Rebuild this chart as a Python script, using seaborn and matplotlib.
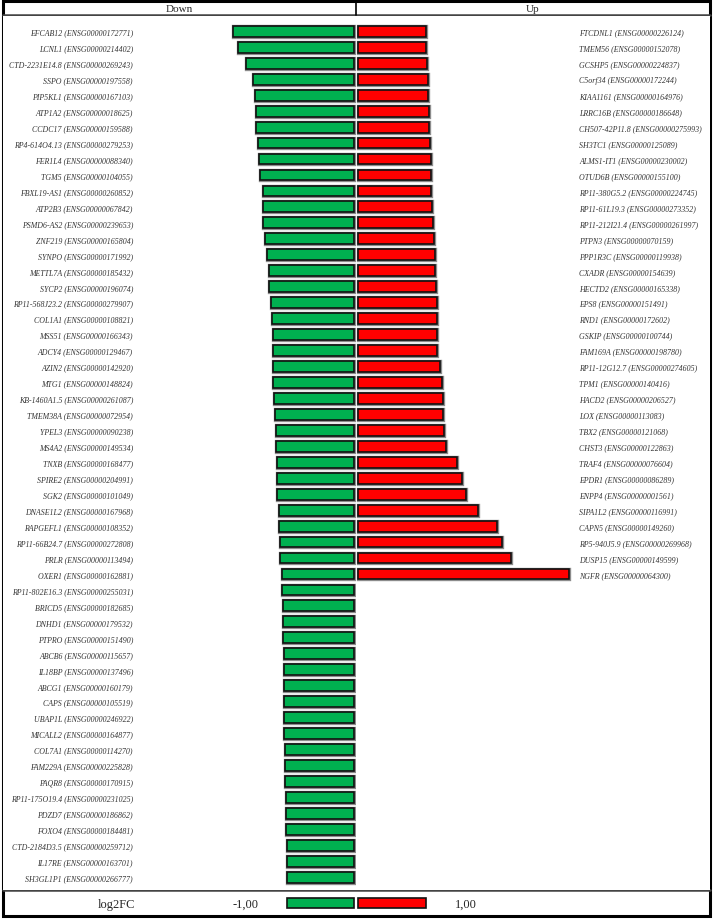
import numpy as np
import pandas as pd
import seaborn as sns
import matplotlib.pyplot as plt
import matplotlib.patheffects as pe
from matplotlib.patches import Rectangle
from matplotlib.lines import Line2D

# genes going down (log2FC < 0), top to bottom
down_genes = [
    "EFCAB12 (ENSG00000172771)", "LCNL1 (ENSG00000214402)", "CTD-2231E14.8 (ENSG00000269243)",
    "SSPO (ENSG00000197558)", "PIP5KL1 (ENSG00000167103)", "ATP1A2 (ENSG00000018625)",
    "CCDC17 (ENSG00000159588)", "RP4-614O4.13 (ENSG00000279253)", "FER1L4 (ENSG00000088340)",
    "TGM5 (ENSG00000104055)", "FBXL19-AS1 (ENSG00000260852)", "ATP2B3 (ENSG00000067842)",
    "PSMD6-AS2 (ENSG00000239653)", "ZNF219 (ENSG00000165804)", "SYNPO (ENSG00000171992)",
    "METTL7A (ENSG00000185432)", "SYCP2 (ENSG00000196074)", "RP11-568J23.2 (ENSG00000279907)",
    "COL1A1 (ENSG00000108821)", "MSS51 (ENSG00000166343)", "ADCY4 (ENSG00000129467)",
    "AZIN2 (ENSG00000142920)", "MTG1 (ENSG00000148824)", "KB-1460A1.5 (ENSG00000261087)",
    "TMEM38A (ENSG00000072954)", "YPEL3 (ENSG00000090238)", "MS4A2 (ENSG00000149534)",
    "TNXB (ENSG00000168477)", "SPIRE2 (ENSG00000204991)", "SGK2 (ENSG00000101049)",
    "DNASE1L2 (ENSG00000167968)", "RAPGEFL1 (ENSG00000108352)", "RP11-66B24.7 (ENSG00000272808)",
    "PRLR (ENSG00000113494)", "OXER1 (ENSG00000162881)", "RP11-802E16.3 (ENSG00000255031)",
    "BRICD5 (ENSG00000182685)", "DNHD1 (ENSG00000179532)", "PTPRO (ENSG00000151490)",
    "ABCB6 (ENSG00000115657)", "IL18BP (ENSG00000137496)", "ABCG1 (ENSG00000160179)",
    "CAPS (ENSG00000105519)", "UBAP1L (ENSG00000246922)", "MICALL2 (ENSG00000164877)",
    "COL7A1 (ENSG00000114270)", "FAM229A (ENSG00000225828)", "PAQR8 (ENSG00000170915)",
    "RP11-175O19.4 (ENSG00000231025)", "PDZD7 (ENSG00000186862)", "FOXO4 (ENSG00000184481)",
    "CTD-2184D3.5 (ENSG00000259712)", "IL17RE (ENSG00000163701)", "SH3GL1P1 (ENSG00000266777)",
]
down_fc = [
    -1.80, -1.73, -1.60, -1.50, -1.47, -1.46, -1.45, -1.42, -1.41, -1.39,
    -1.35, -1.35, -1.35, -1.32, -1.29, -1.27, -1.26, -1.23, -1.22, -1.21,
    -1.21, -1.21, -1.20, -1.19, -1.18, -1.16, -1.16, -1.15, -1.15, -1.14,
    -1.12, -1.11, -1.10, -1.10, -1.07, -1.07, -1.06, -1.05, -1.05, -1.04,
    -1.04, -1.04, -1.04, -1.04, -1.04, -1.03, -1.02, -1.02, -1.01, -1.01,
    -1.01, -1.00, -1.00, -1.00,
]

# genes going up (log2FC > 0), top to bottom
up_genes = [
    "FTCDNL1 (ENSG00000226124)", "TMEM56 (ENSG00000152078)", "GCSHP5 (ENSG00000224837)",
    "C5orf34 (ENSG00000172244)", "KIAA1161 (ENSG00000164976)", "LRRC16B (ENSG00000186648)",
    "CH507-42P11.8 (ENSG00000275993)", "SH3TC1 (ENSG00000125089)", "ALMS1-IT1 (ENSG00000230002)",
    "OTUD6B (ENSG00000155100)", "RP11-380G5.2 (ENSG00000224745)", "RP11-61L19.3 (ENSG00000273352)",
    "RP11-212I21.4 (ENSG00000261997)", "PTPN3 (ENSG00000070159)", "PPP1R3C (ENSG00000119938)",
    "CXADR (ENSG00000154639)", "HECTD2 (ENSG00000165338)", "EPS8 (ENSG00000151491)",
    "RND1 (ENSG00000172602)", "GSKIP (ENSG00000100744)", "FAM169A (ENSG00000198780)",
    "RP11-12G12.7 (ENSG00000274605)", "TPM1 (ENSG00000140416)", "HACD2 (ENSG00000206527)",
    "LOX (ENSG00000113083)", "TBX2 (ENSG00000121068)", "CHST3 (ENSG00000122863)",
    "TRAF4 (ENSG00000076604)", "EPDR1 (ENSG00000086289)", "ENPP4 (ENSG00000001561)",
    "SIPA1L2 (ENSG00000116991)", "CAPN5 (ENSG00000149260)", "RP5-940J5.9 (ENSG00000269968)",
    "DUSP15 (ENSG00000149599)", "NGFR (ENSG00000064300)",
]
up_fc = [
    1.00, 1.00, 1.02, 1.03, 1.03, 1.04, 1.05, 1.06, 1.07, 1.08,
    1.08, 1.09, 1.10, 1.12, 1.13, 1.14, 1.15, 1.16, 1.16, 1.17,
    1.17, 1.21, 1.24, 1.25, 1.26, 1.27, 1.30, 1.46, 1.54, 1.59,
    1.77, 2.05, 2.13, 2.26, 3.12,
]

legend_fc = [-1.00, 1.00]
legend_labels = ["-1,00", "1,00"]

GREEN = "#00b050"
RED = "#ff0000"
W, H = 713, 920

sns.set_theme(style="white")
plt.rcParams['font.family'] = ['Liberation Serif', 'DejaVu Serif']

fig = plt.figure(figsize=(W / 100, H / 100), dpi=100)


def px_axes(x0, y0, x1, y1):
    # axes placed by pixel box (top-left origin)
    return fig.add_axes([x0 / W, 1 - y1 / H, (x1 - x0) / W, (y1 - y0) / H])


def shade(ax):
    # grey halo round the black bar edge, like the original
    for p in ax.patches:
        p.set_path_effects([pe.withStroke(linewidth=2.4, foreground="#8c8c8c")])


ylim = (53.8, -0.96)
left_xlim = (-5.204, 0.025)
right_xlim = (-0.034, 5.21)
bar_kw = dict(orient="h", width=0.68, saturation=1, errorbar=None,
              edgecolor="#111111", linewidth=1.2)
lab_kw = dict(length=0, labelsize=5.7, labelcolor="#333333")

# left panel: down-regulated
axl = px_axes(3, 17, 356, 891)
df_down = pd.DataFrame({"gene": down_genes, "log2FC": down_fc})
sns.barplot(data=df_down, x="log2FC", y="gene", color=GREEN, ax=axl, **bar_kw)
shade(axl)
axl.set_xlim(*left_xlim)
axl.set_ylim(*ylim)
axl.tick_params(axis="y", pad=-93.6, **lab_kw)
for t in axl.get_yticklabels():
    t.set_fontstyle("italic")
axl.set_xticks([])
axl.set_xlabel("")
axl.set_ylabel("")
sns.despine(ax=axl, left=True, bottom=True)

# right panel: up-regulated
axr = px_axes(356, 17, 710, 891)
df_up = pd.DataFrame({"gene": up_genes, "log2FC": up_fc})
sns.barplot(data=df_up, x="log2FC", y="gene", color=RED, ax=axr, **bar_kw)
shade(axr)
axr.set_xlim(*right_xlim)
axr.set_ylim(*ylim)
axr.yaxis.tick_right()
axr.tick_params(axis="y", pad=-94.3, **lab_kw)
for t in axr.get_yticklabels():
    t.set_fontstyle("italic")
axr.set_xticks([])
axr.set_xlabel("")
axr.set_ylabel("")
sns.despine(ax=axr, left=True, bottom=True, right=True)

# legend row bars, same scales as the panels
for (x0, x1, xl, val, col) in [(3, 356, left_xlim, legend_fc[0], GREEN),
                                (356, 710, right_xlim, legend_fc[1], RED)]:
    ax = px_axes(x0, 891, x1, 917)
    sns.barplot(x=[val], y=["log2FC"], color=col, ax=ax, **bar_kw)
    ax.set_xlim(*xl)
    ax.set_ylim(0.81, -0.81)
    ax.axis("off")

# frame, header and legend texts in pixel space
fr = fig.add_axes([0, 0, 1, 1], zorder=-1)
fr.set_xlim(0, W)
fr.set_ylim(H, 0)
fr.axis("off")
fr.add_patch(Rectangle((3, 2), 707, 915, fill=False, ec="black", lw=2.2))
fr.add_line(Line2D([3, 710], [16, 16], color="#444444", lw=1.8))
fr.add_line(Line2D([3, 710], [890.5, 890.5], color="#444444", lw=1.8))
fr.add_line(Line2D([356, 356], [2, 16], color="black", lw=1.2))
fr.text(179, 9.5, "Down", ha="center", va="center", fontsize=8)
fr.text(533, 9.5, "Up", ha="center", va="center", fontsize=8)
fr.text(116, 905, "log2FC", ha="center", va="center", fontsize=9)
fr.text(246, 905, legend_labels[0], ha="center", va="center", fontsize=9)
fr.text(466, 905, legend_labels[1], ha="center", va="center", fontsize=9)

fig.savefig("out.png", dpi=100, facecolor="white")
